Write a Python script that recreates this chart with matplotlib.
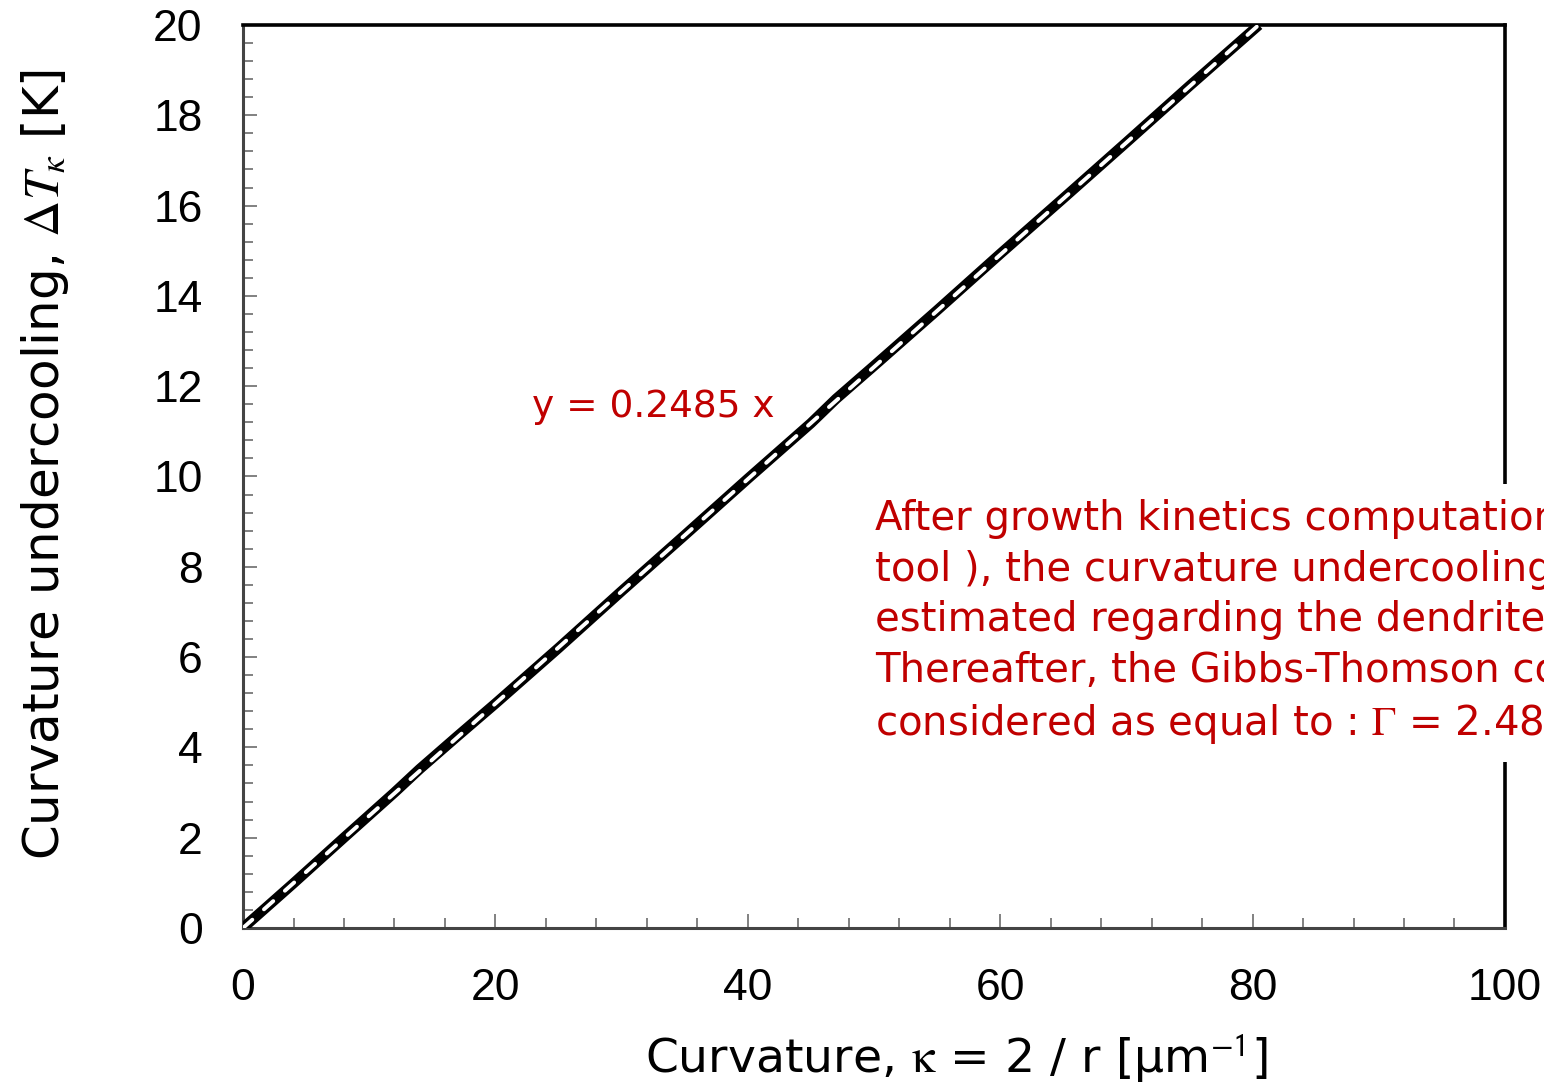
"""Gibbs-Thomson curvature undercooling vs curvature"""

import numpy as np
import matplotlib

matplotlib.use("Agg")
import matplotlib.pyplot as plt
from matplotlib.ticker import MultipleLocator

# Simulated points (curvature [um^-1], undercooling [K])
kappa = [0, 4, 8, 12, 14, 17, 20, 25, 30, 35, 40, 45, 47, 50, 55, 60, 65, 70, 75, 80.5]
dT = [0, 0.99, 2.0, 3.0, 3.52, 4.25, 4.97, 6.2, 7.46, 8.7, 9.95,
      11.18, 11.72, 12.45, 13.68, 14.93, 16.16, 17.4, 18.65, 20.0]

# Linear fit through the origin
slope = 0.2485
fit_x = np.array([0, 100])

x_ticks = [0, 20, 40, 60, 80, 100]
y_ticks = [0, 2, 4, 6, 8, 10, 12, 14, 16, 18, 20]

note_lines = [
    "After growth kinetics computation (",
    "tool ), the curvature undercooling",
    "estimated regarding the dendrite",
    "Thereafter, the Gibbs-Thomson coefficient",
    "considered as equal to : $\\Gamma$ = 2.485",
]

plt.rcParams["mathtext.fontset"] = "stix"
tick_font = ["Liberation Sans", "DejaVu Sans"]
label_font = ["DejaVu Sans"]
RED = "#c00000"

fig = plt.figure(figsize=(15.44, 10.88), dpi=100)
ax = fig.add_axes([0.1574, 0.1471, 0.8173, 0.8299])

ax.plot(kappa, dT, color="black", lw=7.5, solid_capstyle="butt", zorder=3)
ax.plot(fit_x, slope * fit_x, color="white", lw=2.8, dashes=(3.2, 4.0),
        dash_capstyle="round", zorder=4)

ax.set_xlim(0, 100)
ax.set_ylim(0, 20)
ax.set_xticks(x_ticks)
ax.set_yticks(y_ticks)
ax.xaxis.set_minor_locator(MultipleLocator(4))
ax.yaxis.set_minor_locator(MultipleLocator(0.4))
ax.tick_params(which="both", direction="in", color="#777777", width=1.3,
               top=False, right=False)
ax.tick_params(which="major", length=10, pad=29, labelsize=32)
ax.tick_params(which="minor", length=7)
for lab in ax.get_xticklabels() + ax.get_yticklabels():
    lab.set_family(tick_font)

for side in ("left", "bottom"):
    ax.spines[side].set_color("#444444")
    ax.spines[side].set_linewidth(2.2)
for side in ("top", "right"):
    ax.spines[side].set_color("black")
    ax.spines[side].set_linewidth(2.6)

ax.set_xlabel("Curvature, $\\mathrm{\\kappa}$ = 2 / r [\u03bcm$^{\\mathsf{-1}}$]",
              fontsize=34, family=label_font)
ax.xaxis.set_label_coords(0.565, -0.114)
ax.set_ylabel("Curvature undercooling, $\\Delta T_{\\kappa}$ [K]",
              fontsize=36, family=label_font)
ax.yaxis.set_label_coords(-0.136, 0.513)

ax.text(22.9, 11.55, "y = 0.2485 x", color=RED, fontsize=27,
        family=label_font, ha="left", va="center", zorder=5)

fig.text(875 / 1544, 1 - 499 / 1088, "\n".join(note_lines), color=RED,
         fontsize=29, family=label_font, ha="left", va="top",
         linespacing=1.34, zorder=10,
         bbox=dict(facecolor="white", edgecolor="none", pad=12))

fig.savefig("out.png", dpi=100)
